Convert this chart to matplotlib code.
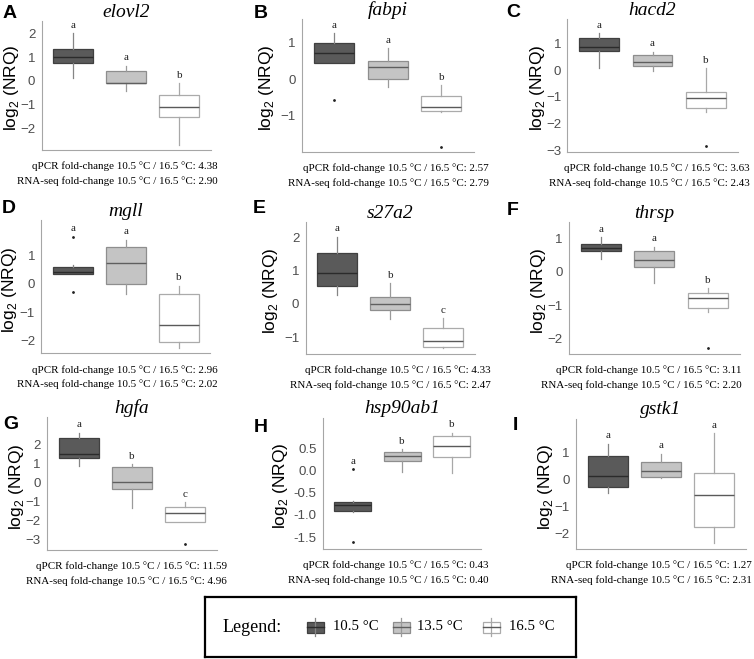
import matplotlib
matplotlib.use("Agg")
import matplotlib.pyplot as plt
from matplotlib.patches import Rectangle
from matplotlib.ticker import FormatStrFormatter
import numpy as np

# ---- data (log2 NRQ box statistics) ----
genes = ['elovl2', 'fabpi', 'hacd2', 'mgll', 's27a2', 'thrsp', 'hgfa', 'hsp90ab1', 'gstk1']
panel_tags = ['A', 'B', 'C', 'D', 'E', 'F', 'G', 'H', 'I']
groups = ['10.5 °C', '13.5 °C', '16.5 °C']

med = [[1.00, -0.08, -1.11], [0.71, 0.34, -0.78], [0.85, 0.31, -1.04],
       [0.41, 0.73, -1.45], [0.92, 0.00, -1.10], [0.73, 0.36, -0.77],
       [1.49, 0.05, -1.61], [-0.77, 0.32, 0.56], [0.12, 0.31, -0.59]]
q1 = [[0.75, -0.10, -1.54], [0.45, 0.00, -0.88], [0.71, 0.16, -1.44],
      [0.35, 0.00, -2.07], [0.54, -0.18, -1.30], [0.64, 0.16, -1.09],
      [1.32, -0.35, -2.05], [-0.92, 0.22, 0.30], [-0.28, 0.09, -1.79]]
q3 = [[1.34, 0.44, -0.59], [1.00, 0.51, -0.46], [1.19, 0.56, -0.81],
      [0.61, 1.32, -0.35], [1.54, 0.20, -0.73], [0.83, 0.64, -0.62],
      [2.33, 0.81, -1.30], [-0.70, 0.41, 0.78], [0.85, 0.62, 0.23]]
whislo = [[0.11, -0.41, -2.70], [0.45, -0.23, -0.90], [0.09, -0.04, -1.56],
          [0.35, -0.35, -2.28], [0.27, -0.46, -1.33], [0.38, -0.34, -1.19],
          [0.88, -1.35, -2.09], [-0.94, -0.02, -0.06], [-0.53, 0.02, -2.38]]
whishi = [[2.01, 0.63, -0.10], [1.26, 0.85, -0.17], [1.38, 0.69, 0.06],
          [0.67, 1.56, -0.07], [2.02, 0.62, -0.43], [1.04, 0.76, -0.49],
          [2.63, 0.96, -1.04], [-0.68, 0.48, 0.86], [1.30, 0.93, 1.69]]
fliers = [[[], [], []], [[-0.58], [], [-1.87]], [[], [], [-2.84]],
          [[1.68, -0.30], [], []], [[], [], []], [[], [], [-2.27]],
          [[], [], [-3.25]], [[0.03, -1.62], [], []], [[], [], []]]
letters = [['a', 'a', 'b'], ['a', 'a', 'b'], ['a', 'a', 'b'],
           ['a', 'a', 'b'], ['a', 'b', 'c'], ['a', 'a', 'b'],
           ['a', 'b', 'c'], ['a', 'b', 'b'], ['a', 'a', 'a']]
qpcr_fc = ['4.38', '2.57', '3.63', '2.96', '4.33', '3.11', '11.59', '0.43', '1.27']
rnaseq_fc = ['2.90', '2.79', '2.43', '2.02', '2.47', '2.20', '4.96', '0.40', '2.31']

ylims = [(-2.92, 2.55), (-2.01, 1.66), (-3.06, 1.92), (-2.46, 2.25), (-1.50, 2.45),
         (-2.46, 1.49), (-3.54, 3.44), (-1.77, 1.20), (-2.59, 2.24)]
yticks = [[-2, -1, 0, 1, 2], [-1, 0, 1], [-3, -2, -1, 0, 1], [-2, -1, 0, 1], [-1, 0, 1, 2],
          [-2, -1, 0, 1], [-3, -2, -1, 0, 1, 2], [-1.5, -1.0, -0.5, 0.0, 0.5], [-2, -1, 0, 1]]

# ---- layout (pixels of a 754 x 659 canvas) ----
W, H = 754, 659
axes_px = [(41.5, 20.6, 211.1, 150), (301.8, 19, 473.5, 151.7), (567.4, 18.8, 737.6, 151.7),
           (41.3, 220.5, 210.4, 353.3), (305.5, 222.3, 475.1, 354), (569, 222.3, 739.7, 354),
           (47.2, 417.3, 216.8, 550), (323, 417.5, 481.4, 549), (576.2, 418.5, 745.8, 549)]
ylabel_gap = [30, 35, 30, 31.5, 34.5, 30.5, 30.5, 42, 31]
tag_px = [(3, 18), (254, 18), (506, 17), (2, 213), (253, 213), (507, 215),
          (3, 429), (254, 432), (513, 430)]
caption_right = [218, 489, 750, 218, 491, 742, 227, 488, 752]

fills = ['#5a5a5a', '#c4c4c4', '#ffffff']
edges = ['#404040', '#8e8e8e', '#ababab']
medcols = ['#2b2b2b', '#5f5f5f', '#5a5a5a']
whiskcols = ['#858585', '#9a9a9a', '#a8a8a8']

plt.rcParams['font.family'] = 'Liberation Sans'
plt.rcParams['mathtext.fontset'] = 'custom'
plt.rcParams['mathtext.rm'] = 'Liberation Sans'

fig = plt.figure(figsize=(W / 100, H / 100), dpi=100)


def fx(x):
    return x / W


def fy(y):
    return 1 - y / H


for i, gene in enumerate(genes):
    l, t, r, b = axes_px[i]
    ax = fig.add_axes([fx(l), fy(b), (r - l) / W, (b - t) / H])

    stats = []
    for j in range(3):
        stats.append(dict(med=med[i][j], q1=q1[i][j], q3=q3[i][j],
                          whislo=whislo[i][j], whishi=whishi[i][j],
                          fliers=np.array(fliers[i][j])))
    art = ax.bxp(stats, positions=[1, 2, 3], widths=0.75, patch_artist=True,
                 showcaps=False, showfliers=True)
    for j in range(3):
        art['boxes'][j].set(facecolor=fills[j], edgecolor=edges[j], linewidth=0.9)
        art['medians'][j].set(color=medcols[j], linewidth=1.0)
        for w in art['whiskers'][2 * j:2 * j + 2]:
            w.set(color=whiskcols[j], linewidth=0.9)
        art['fliers'][j].set(marker='.', markersize=2, markerfacecolor='#222222',
                             markeredgecolor='#222222', linestyle='none')
        top = max([whishi[i][j]] + fliers[i][j])
        ax.annotate(letters[i][j], (j + 1, top), xytext=(0, 4), textcoords='offset points',
                    ha='center', va='baseline', fontsize=8, family='Liberation Serif',
                    color='#222222')

    ax.set_xlim(0.4, 3.6)
    ax.set_ylim(*ylims[i])
    ax.set_yticks(yticks[i])
    if gene == 'hsp90ab1':
        ax.yaxis.set_major_formatter(FormatStrFormatter('%.1f'))
    ax.set_xticks([])
    ax.tick_params(axis='y', length=0, pad=4.5, labelsize=9.5, labelcolor='#4d4d4d')
    for s in ['top', 'right']:
        ax.spines[s].set_visible(False)
    for s in ['left', 'bottom']:
        ax.spines[s].set_color('#a6a6a6')
        ax.spines[s].set_linewidth(0.8)
    ax.set_facecolor('none')

    ax.set_ylabel('log$_\\mathregular{2}$ (NRQ)', fontsize=12.5, va='center')
    ax.yaxis.set_label_coords(-ylabel_gap[i] / (r - l), 0.48)
    ax.set_title(gene, fontsize=14, family='Liberation Serif', style='italic', pad=1)

    fig.text(fx(tag_px[i][0]), fy(tag_px[i][1]), panel_tags[i], fontsize=14,
             fontweight='bold', ha='left', va='baseline')
    fig.text(fx(caption_right[i]), fy(b + 16.5),
             'qPCR fold-change 10.5 °C / 16.5 °C: ' + qpcr_fc[i],
             ha='right', va='center', fontsize=7.9, family='Liberation Serif')
    fig.text(fx(caption_right[i]), fy(b + 31),
             'RNA-seq fold-change 10.5 °C / 16.5 °C: ' + rnaseq_fc[i],
             ha='right', va='center', fontsize=7.9, family='Liberation Serif')

# ---- legend box drawn in pixel coordinates ----
lx0, ly0, lx1, ly1 = 205, 597, 576, 657
lax = fig.add_axes([fx(lx0), fy(ly1), (lx1 - lx0) / W, (ly1 - ly0) / H])
lax.set_xlim(lx0, lx1)
lax.set_ylim(ly1, ly0)
lax.set_xticks([])
lax.set_yticks([])
for s in lax.spines.values():
    s.set_color('black')
    s.set_linewidth(1.6)
cy = 627
lax.text(223, cy, 'Legend:', fontsize=13, family='Liberation Serif', va='center', ha='left')
key_x = [307, 393, 483]
label_x = [333, 417, 509]
for j in range(3):
    kx = key_x[j]
    lax.plot([kx + 8.5, kx + 8.5], [cy - 9, cy + 9], color=whiskcols[j], lw=0.9)
    lax.add_patch(Rectangle((kx, cy - 5.5), 17, 11, facecolor=fills[j],
                            edgecolor=edges[j], lw=0.9))
    lax.plot([kx, kx + 17], [cy, cy], color=medcols[j], lw=1.0)
    lax.text(label_x[j], cy, groups[j], fontsize=10.6, family='Liberation Serif',
             va='center', ha='left')

fig.savefig('out.png', dpi=100)
